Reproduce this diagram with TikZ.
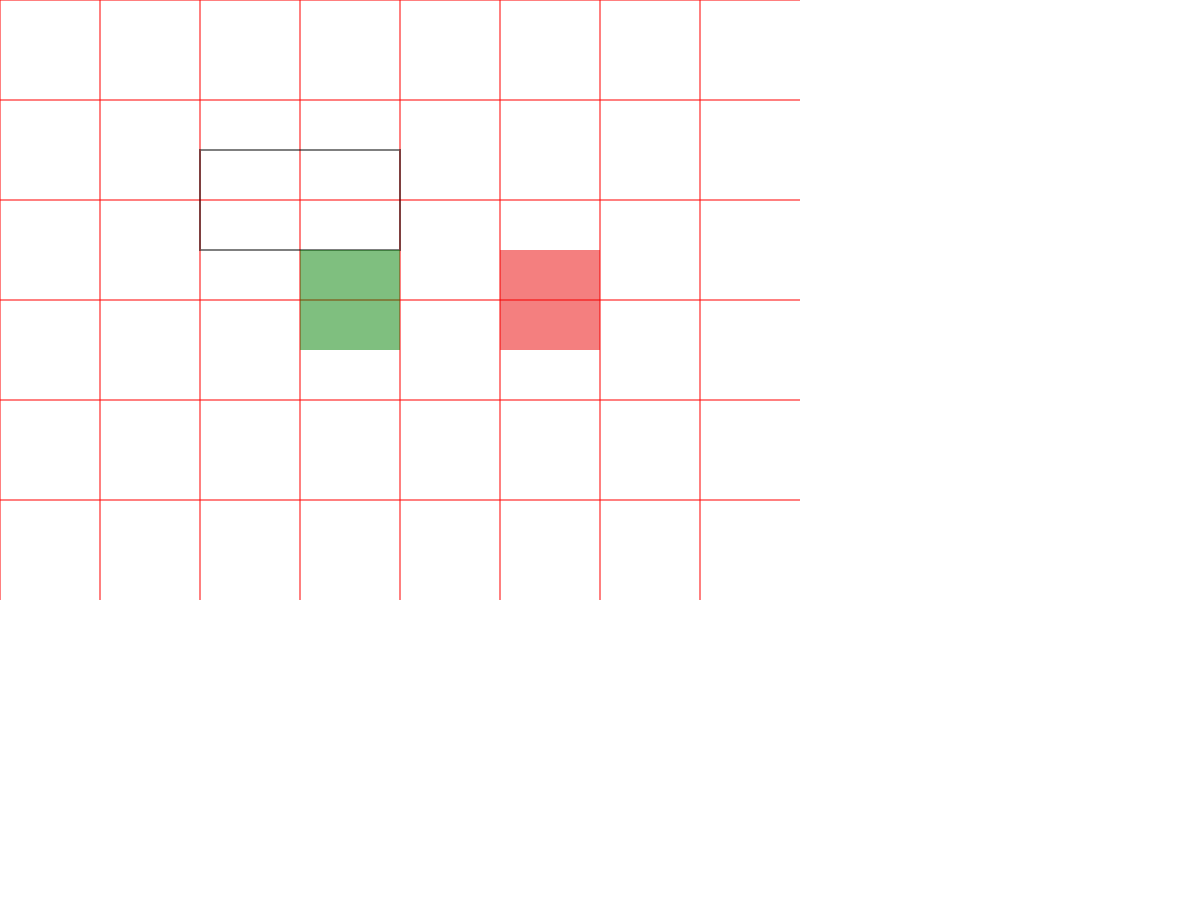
\documentclass[tikz,border=0pt]{standalone}
\definecolor{boxred}{RGB}{235,0,0}
\begin{document}
\begin{tikzpicture}[x=0.02cm,y=-0.02cm,
  gridline/.style={draw=red,opacity=0.5,line width=1.1pt},
  outlinebox/.style={draw=black,opacity=0.5,line width=1.1pt},
  greenbox/.style={fill=green!50!black,opacity=0.5},
  redbox/.style={fill=boxred,opacity=0.5}]
\useasboundingbox (0,0) rectangle (1200,899);
\fill[white] (0,0) rectangle (1200,899);
\foreach \x in {0,100,...,700} \draw[gridline] (\x,0) -- (\x,600);
\foreach \y in {0,100,...,500} \draw[gridline] (0,\y) -- (800,\y);
\draw[outlinebox] (200,150) rectangle (400,250);
\fill[greenbox] (300,250) rectangle (400,350);
\fill[redbox] (500,250) rectangle (600,350);
\end{tikzpicture}
\end{document}
